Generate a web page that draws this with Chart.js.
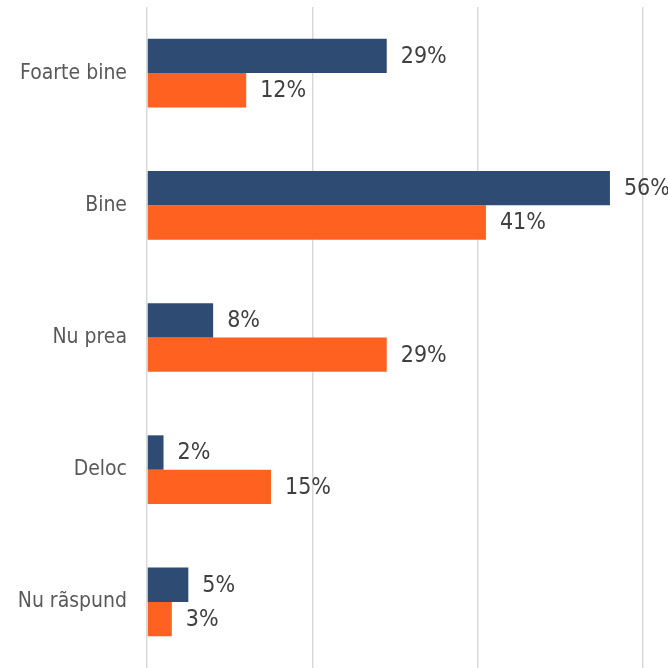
<!DOCTYPE html>
<html>
<head>
<meta charset="utf-8">
<script src="https://cdn.jsdelivr.net/npm/chart.js@4"></script>
<style>
    html, body { margin: 0; padding: 0; background: #ffffff; }
    #wrap { width: 668px; height: 668px; position: relative; }
</style>
</head>
<body>
<div id="wrap"><canvas id="answersChart"></canvas></div>
<script>
// Chart data
const categories = ['Foarte bine', 'Bine', 'Nu prea', 'Deloc', 'Nu rãspund'];
const seriesA = [29, 56, 8, 2, 5];
const seriesB = [12, 41, 29, 15, 3];
const axisMax = 60;

const FONT = "'DejaVu Sans Condensed', 'DejaVu Sans', sans-serif";

// Draws "NN%" to the right of each bar
const valueLabels = {
    id: 'valueLabels',
    afterDatasetsDraw(chart) {
        const ctx = chart.ctx;
        ctx.save();
        ctx.font = '23px ' + FONT;
        ctx.fillStyle = '#404040';
        ctx.textAlign = 'left';
        ctx.textBaseline = 'middle';
        chart.data.datasets.forEach((ds, i) => {
            chart.getDatasetMeta(i).data.forEach((bar, j) => {
                ctx.fillText(ds.data[j] + '%', bar.x + 14, bar.y + 1);
            });
        });
        ctx.restore();
    }
};

const ctx = document.getElementById('answersChart').getContext('2d');

new Chart(ctx, {
    type: 'bar',
    data: {
        labels: categories,
        datasets: [{
            data: seriesA,
            backgroundColor: '#2d4b73',
            borderWidth: 0
        }, {
            data: seriesB,
            backgroundColor: '#ff6121',
            borderWidth: 0
        }]
    },
    options: {
        indexAxis: 'y',
        responsive: true,
        maintainAspectRatio: false,
        animation: false,
        categoryPercentage: 0.52,
        barPercentage: 1,
        layout: { padding: { top: 7, right: 25, bottom: -3, left: 0 } },
        plugins: {
            legend: { display: false },
            tooltip: { enabled: false }
        },
        scales: {
            x: {
                min: 0,
                max: axisMax,
                ticks: { display: false, stepSize: 20 },
                grid: { color: '#d9d9d9', lineWidth: 1.5, drawTicks: false },
                border: { display: false },
                afterFit(scale) {
                    scale.height = 0;
                    scale.paddingLeft = 0;
                    scale.paddingRight = 0;
                }
            },
            y: {
                grid: { display: false, drawTicks: false },
                border: { display: false },
                ticks: {
                    color: '#595959',
                    padding: 20,
                    font: { family: FONT, size: 21 }
                },
                afterFit(scale) {
                    scale.width = 147;
                    scale.paddingTop = 0;
                    scale.paddingBottom = 0;
                }
            }
        }
    },
    plugins: [valueLabels]
});
</script>
</body>
</html>
